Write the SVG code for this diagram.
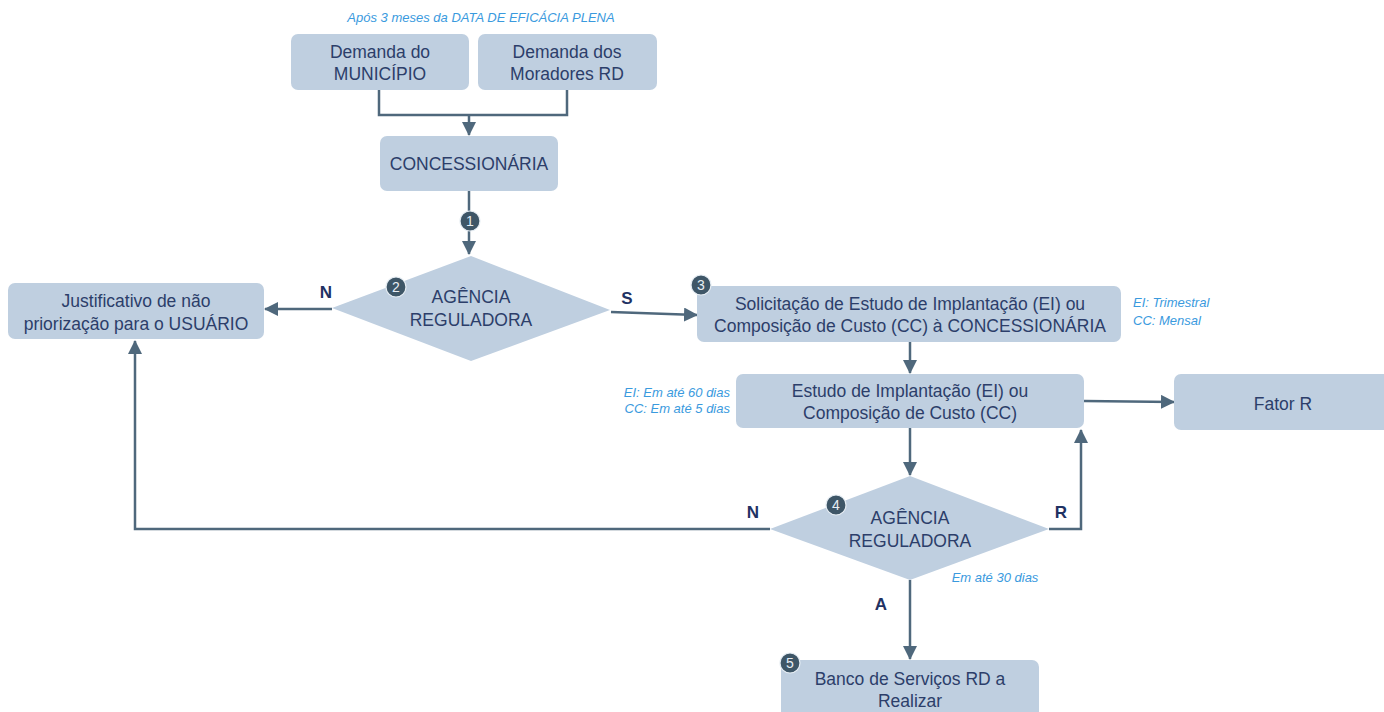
<svg xmlns="http://www.w3.org/2000/svg" width="1384" height="712" viewBox="0 0 1384 712">
<defs>
<style>
.box{fill:#bfcfe0;}
.t{font-family:"Liberation Sans",Arial,sans-serif;font-size:17.5px;fill:#2c3e6a;text-anchor:middle;}
.note{font-family:"Liberation Sans",Arial,sans-serif;font-size:13px;font-style:italic;fill:#3a9ade;}
.lbl{font-family:"Liberation Sans",Arial,sans-serif;font-size:17px;font-weight:bold;fill:#1f3263;text-anchor:middle;}
.c{fill:none;stroke:#4f687c;stroke-width:2.5;}
.badge circle{fill:#3e5667;stroke:#e6edf3;stroke-width:1.2;}
.badge text{font-family:"Liberation Sans",Arial,sans-serif;font-size:14px;fill:#e8eef4;text-anchor:middle;}
</style>
<marker id="ah" markerUnits="userSpaceOnUse" markerWidth="14" markerHeight="14" viewBox="0 0 14 14" refX="13" refY="7" orient="auto">
<path d="M0,0 L14,7 L0,14 Z" fill="#4f687c"/>
</marker>
</defs>
<rect width="1384" height="712" fill="#ffffff"/>

<text class="note" x="481" y="22" text-anchor="middle">Após 3 meses da DATA DE EFICÁCIA PLENA</text>

<g id="connectors">
<path class="c" d="M379,90 V115 H567 V90"/>
<path class="c" d="M469,115 V135" marker-end="url(#ah)"/>
<path class="c" d="M469,191 V254" marker-end="url(#ah)"/>
<path class="c" d="M332,309 H265" marker-end="url(#ah)"/>
<path class="c" d="M611,312 L697,315" marker-end="url(#ah)"/>
<path class="c" d="M910,342 V373" marker-end="url(#ah)"/>
<path class="c" d="M1084,401 L1174,402" marker-end="url(#ah)"/>
<path class="c" d="M910,428 V475" marker-end="url(#ah)"/>
<path class="c" d="M770,529 H135 V341" marker-end="url(#ah)"/>
<path class="c" d="M1049,529 H1081 V430" marker-end="url(#ah)"/>
<path class="c" d="M910,580 V659" marker-end="url(#ah)"/>
<text class="lbl" x="326" y="298">N</text>
<text class="lbl" x="627" y="304">S</text>
<text class="lbl" x="753" y="518">N</text>
<text class="lbl" x="1061" y="518">R</text>
<text class="lbl" x="881" y="610">A</text>
</g>

<g id="demanda-municipio">
<rect class="box" x="291" y="34" width="178" height="56" rx="7"/>
<text class="t" x="380" y="58">Demanda do</text>
<text class="t" x="380" y="80">MUNICÍPIO</text>
</g>

<g id="demanda-moradores">
<rect class="box" x="478" y="34" width="179" height="56" rx="7"/>
<text class="t" x="567" y="58">Demanda dos</text>
<text class="t" x="567" y="80">Moradores RD</text>
</g>

<g id="concessionaria">
<rect class="box" x="380" y="136" width="178" height="55" rx="7"/>
<text class="t" x="469" y="170">CONCESSIONÁRIA</text>
</g>

<g id="badge1" class="badge">
<circle cx="470" cy="221" r="10"/>
<text x="470" y="226">1</text>
</g>

<g id="agencia1">
<polygon class="box" points="471,256 610,310 471,361 332,308"/>
<text class="t" x="471" y="303">AGÊNCIA</text>
<text class="t" x="471" y="326">REGULADORA</text>
<g class="badge">
<circle cx="396" cy="287" r="10"/>
<text x="396" y="292">2</text>
</g>
</g>

<g id="justificativo">
<rect class="box" x="8" y="283" width="256" height="56" rx="7"/>
<text class="t" x="136" y="307">Justificativo de não</text>
<text class="t" x="136" y="330">priorização para o USUÁRIO</text>
</g>

<g id="solicitacao">
<rect class="box" x="697" y="286" width="424" height="56" rx="7"/>
<text class="t" x="910" y="310">Solicitação de Estudo de Implantação (EI) ou</text>
<text class="t" x="910" y="332">Composição de Custo (CC) à CONCESSIONÁRIA</text>
<g class="badge">
<circle cx="701" cy="285" r="10"/>
<text x="701" y="290">3</text>
</g>
<text class="note" x="1133" y="307">EI: Trimestral</text>
<text class="note" x="1133" y="325">CC: Mensal</text>
</g>

<g id="estudo">
<rect class="box" x="736" y="374" width="348" height="54" rx="7"/>
<text class="t" x="910" y="397">Estudo de Implantação (EI) ou</text>
<text class="t" x="910" y="419">Composição de Custo (CC)</text>
<text class="note" x="730" y="397" text-anchor="end">EI: Em até 60 dias</text>
<text class="note" x="730" y="413" text-anchor="end">CC: Em até 5 dias</text>
</g>

<g id="fator-r">
<rect class="box" x="1174" y="374" width="220" height="56" rx="7"/>
<text class="t" x="1283" y="410">Fator R</text>
</g>

<g id="agencia2">
<polygon class="box" points="910,476 1049,529 910,580 770,529"/>
<text class="t" x="910" y="524">AGÊNCIA</text>
<text class="t" x="910" y="547">REGULADORA</text>
<g class="badge">
<circle cx="836" cy="505" r="10"/>
<text x="836" y="510">4</text>
</g>
<text class="note" x="995" y="582" text-anchor="middle">Em até 30 dias</text>
</g>

<g id="banco">
<rect class="box" x="781" y="660" width="258" height="60" rx="7"/>
<text class="t" x="910" y="685">Banco de Serviços RD a</text>
<text class="t" x="910" y="707">Realizar</text>
<g class="badge">
<circle cx="790" cy="663" r="10"/>
<text x="790" y="668">5</text>
</g>
</g>
</svg>
